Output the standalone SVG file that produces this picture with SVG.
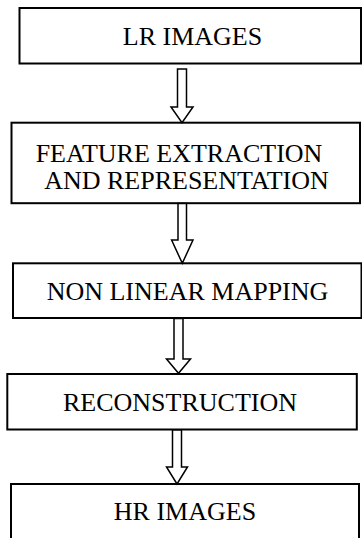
<svg xmlns="http://www.w3.org/2000/svg" width="362" height="538" viewBox="0 0 362 538">
  <style>
    .box { fill: #ffffff; stroke: #000000; stroke-width: 2; }
    .lbl { font-family: "Liberation Serif", "Times New Roman", serif; font-size: 26px; fill: #000000; text-anchor: middle; }
    .arrow { fill: #ffffff; stroke: #000000; stroke-width: 1.5; stroke-linejoin: miter; }
  </style>
  <rect width="362" height="538" fill="#ffffff"/>

  <g id="lr-images">
    <rect class="box" x="19.5" y="8" width="341.5" height="55.5"/>
    <text class="lbl" x="192.5" y="45">LR IMAGES</text>
  </g>

  <g id="feature-extraction">
    <rect class="box" x="11.5" y="122.7" width="348.5" height="80.5"/>
    <text class="lbl" x="179" y="162">FEATURE EXTRACTION</text>
    <text class="lbl" x="186.5" y="189">AND REPRESENTATION</text>
  </g>

  <g id="non-linear-mapping">
    <rect class="box" x="13" y="263.3" width="348.5" height="54.7"/>
    <text class="lbl" x="187.5" y="300">NON LINEAR MAPPING</text>
  </g>

  <g id="reconstruction">
    <rect class="box" x="7.3" y="374" width="349.5" height="55.5"/>
    <text class="lbl" x="180" y="411">RECONSTRUCTION</text>
  </g>

  <g id="hr-images">
    <rect class="box" x="11" y="484" width="348" height="70"/>
    <text class="lbl" x="185" y="520">HR IMAGES</text>
  </g>

  <!-- hollow block arrows between stages -->
  <g id="connectors">
    <path class="arrow" d="M177.5,69 H186.5 V107 H193 L182,122.7 L171,107 H177.5 Z"/>
    <path class="arrow" d="M178,203.5 H186.5 V240 H193 L182.3,263.3 L171.6,240 H178 Z"/>
    <path class="arrow" d="M174,318.5 H183 V359 H190.5 L178.5,373.3 L166.5,359 H174 Z"/>
    <path class="arrow" d="M172.5,430 H181.5 V467 H187.5 L177,484 L166.5,467 H172.5 Z"/>
  </g>
</svg>
